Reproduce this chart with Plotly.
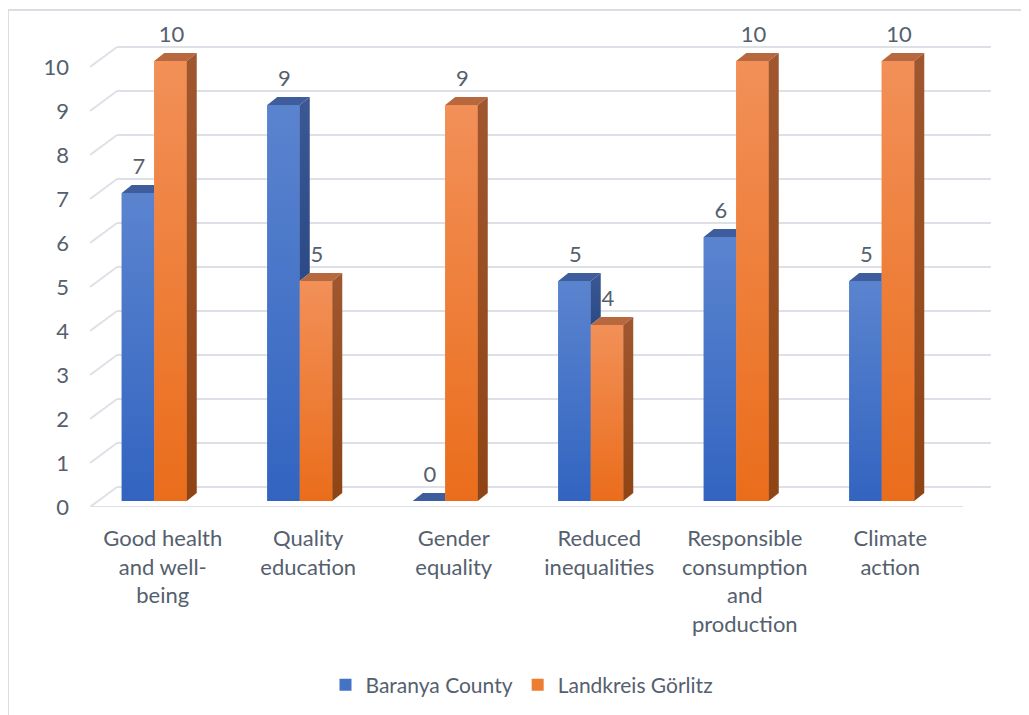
import plotly.graph_objects as go

# ---------------- data ----------------
categories = [
    "Good health<br>and well-<br>being",
    "Quality<br>education",
    "Gender<br>equality",
    "Reduced<br>inequalities",
    "Responsible<br>consumption<br>and<br>production",
    "Climate<br>action",
]
baranya = [7, 9, 0, 5, 6, 5]
goerlitz = [10, 5, 9, 4, 10, 10]
series_names = ["Baranya County", "Landkreis Görlitz"]
y_ticks = list(range(0, 11))

# ---------------- geometry (pixels -> data units) ----------------
BODY = 8                       # default page margin around the plot div
W, H = 1029 - BODY, 715 - BODY
ML, MR, MT, MB = 90 - BODY, 38, 15 - BODY, 208
plot_w = W - ML - MR
plot_h = H - MT - MB
CAT_PX = 145.5      # pixels per category
UNIT_PX = 44.0      # pixels per value unit


def px_x(p):
    return p / CAT_PX


def px_y(p):
    return p / UNIT_PX


X0 = -0.5
x_range = [X0, X0 + plot_w / CAT_PX]
y_range = [0, plot_h / UNIT_PX]

WALL_DX, WALL_DY = px_x(27), px_y(20)     # depth of the 3-D box
BAR_BASE = px_y(6)                         # bar front sits slightly behind floor front
BAR_DX, BAR_DY = px_x(10), px_y(8)         # bar depth
BAR_W = px_x(32.5)
GROUP_SHIFT = px_x(-8.5)
LABEL_GAP = px_y(25)

TEXT_COLOR = "#55606e"
GRID_COLOR = "#dde1e7"
FONT = "Lato"
FS = 22

# (bottom, top) gradient colours
BLUE = dict(front=("#3264c0", "#5b84cf"), top="#3f5c9c", side=("#2b4a86", "#3b5894"), mid="#4472c4")
ORANGE = dict(front=("#ea6d1b", "#f29058"), top="#b8683e", side=("#8e4414", "#a0572f"), mid="#ed7d31")

idx = list(range(len(categories)))

fig = go.Figure()

# front faces (real bars)
fig.add_trace(go.Bar(
    x=idx, y=baranya, base=BAR_BASE, width=BAR_W, offset=GROUP_SHIFT - BAR_W,
    marker=dict(color=BLUE["mid"], line=dict(width=0)), name=series_names[0],
    hoverinfo="skip"))
fig.add_trace(go.Bar(
    x=idx, y=goerlitz, base=BAR_BASE, width=BAR_W, offset=GROUP_SHIFT,
    marker=dict(color=ORANGE["mid"], line=dict(width=0)), name=series_names[1],
    hoverinfo="skip"))


def add_poly(poly, color):
    xs = [p[0] for p in poly] + [poly[0][0]]
    ys = [p[1] for p in poly] + [poly[0][1]]
    kw = dict(x=xs, y=ys, mode="lines", fill="toself",
              showlegend=False, hoverinfo="skip")
    if isinstance(color, tuple):
        kw["fillcolor"] = color[1]
        kw["line"] = dict(width=0, color=color[1])
        kw["fillgradient"] = dict(type="vertical",
                                  colorscale=[[0, color[0]], [1, color[1]]])
    else:
        kw["fillcolor"] = color
        kw["line"] = dict(width=0, color=color)
    fig.add_trace(go.Scatter(**kw))


for i, vb, vo in zip(idx, baranya, goerlitz):
    xl_b = i + GROUP_SHIFT - BAR_W
    xr_b = i + GROUP_SHIFT
    xl_o = xr_b
    xr_o = xr_b + BAR_W
    tb = BAR_BASE + vb
    to = BAR_BASE + vo
    # --- blue bar ---
    if vb > 0:
        add_poly([(xl_b, BAR_BASE), (xr_b, BAR_BASE), (xr_b, tb), (xl_b, tb)], BLUE["front"])
    if to > tb:   # top face partly hidden by taller orange neighbour
        add_poly([(xl_b, tb), (xr_b, tb), (xr_b, tb + BAR_DY), (xl_b + BAR_DX, tb + BAR_DY)], BLUE["top"])
    else:
        add_poly([(xl_b, tb), (xr_b, tb), (xr_b + BAR_DX, tb + BAR_DY), (xl_b + BAR_DX, tb + BAR_DY)], BLUE["top"])
        add_poly([(xr_b, to), (xr_b, tb), (xr_b + BAR_DX, tb + BAR_DY), (xr_b + BAR_DX, to + BAR_DY)], BLUE["side"])
    # --- orange bar ---
    if vo > 0:
        add_poly([(xl_o, BAR_BASE), (xr_o, BAR_BASE), (xr_o, to), (xl_o, to)], ORANGE["front"])
    add_poly([(xl_o, to), (xr_o, to), (xr_o + BAR_DX, to + BAR_DY), (xl_o + BAR_DX, to + BAR_DY)], ORANGE["top"])
    add_poly([(xr_o, BAR_BASE), (xr_o, to), (xr_o + BAR_DX, to + BAR_DY), (xr_o + BAR_DX, BAR_BASE + BAR_DY)], ORANGE["side"])

# data labels
for vals, sign in ((baranya, -1), (goerlitz, 0)):
    xs = [i + GROUP_SHIFT + (sign + 0.5) * BAR_W + px_x(1) for i in idx]
    ys = [BAR_BASE + v + LABEL_GAP for v in vals]
    fig.add_trace(go.Scatter(x=xs, y=ys, mode="text", text=[str(v) for v in vals],
                             textposition="middle center",
                             textfont=dict(family=FONT, size=FS, color=TEXT_COLOR),
                             showlegend=False, hoverinfo="skip", cliponaxis=False))

# gridlines / box
shapes = []
for v in y_ticks:
    shapes.append(dict(type="line", xref="x", yref="y", layer="below",
                       x0=X0 + WALL_DX, x1=x_range[1], y0=v + WALL_DY, y1=v + WALL_DY,
                       line=dict(color=GRID_COLOR, width=2)))
    shapes.append(dict(type="line", xref="x", yref="y", layer="below",
                       x0=X0, x1=X0 + WALL_DX, y0=v, y1=v + WALL_DY,
                       line=dict(color=GRID_COLOR, width=2)))
shapes.append(dict(type="line", xref="x", yref="y", layer="below",
                   x0=X0, x1=X0 + len(categories), y0=0, y1=0,
                   line=dict(color=GRID_COLOR, width=2)))
# chart frame (top-left corner visible in the reference, rest cropped)
shapes.append(dict(type="rect", xref="paper", yref="paper", layer="below",
                   x0=(8 - BODY - ML) / plot_w, x1=(W + 10 - ML) / plot_w,
                   y0=-(H + 10 - MT - plot_h) / plot_h, y1=1 + (MT - (10 - BODY)) / plot_h,
                   line=dict(color="#d9dde4", width=2), fillcolor="rgba(0,0,0,0)"))

fig.update_layout(
    width=W, height=H,
    margin=dict(l=ML, r=MR, t=MT, b=MB),
    paper_bgcolor="white", plot_bgcolor="rgba(0,0,0,0)",
    barmode="overlay",
    showlegend=True,
    legend=dict(orientation="h", x=(522 - BODY - ML) / plot_w, xanchor="center",
                y=-(685 - BODY - (MT + plot_h)) / plot_h, yanchor="middle",
                font=dict(family=FONT, size=FS - 1, color=TEXT_COLOR),
                itemclick=False, itemdoubleclick=False),
    font=dict(family=FONT, size=FS, color=TEXT_COLOR),
    shapes=shapes,
    xaxis=dict(range=x_range, tickmode="array", tickvals=idx, ticktext=categories,
               showgrid=False, zeroline=False, showline=False, ticks="",
               tickfont=dict(family=FONT, size=FS, color=TEXT_COLOR),
               ticklabelstandoff=16, fixedrange=True),
    yaxis=dict(range=y_range, tickmode="array", tickvals=y_ticks,
               ticktext=[str(v) for v in y_ticks],
               showgrid=False, zeroline=False, showline=False, ticks="",
               tickfont=dict(family=FONT, size=FS, color=TEXT_COLOR),
               ticklabelstandoff=20, fixedrange=True),
)

fig.write_html("out.html")
